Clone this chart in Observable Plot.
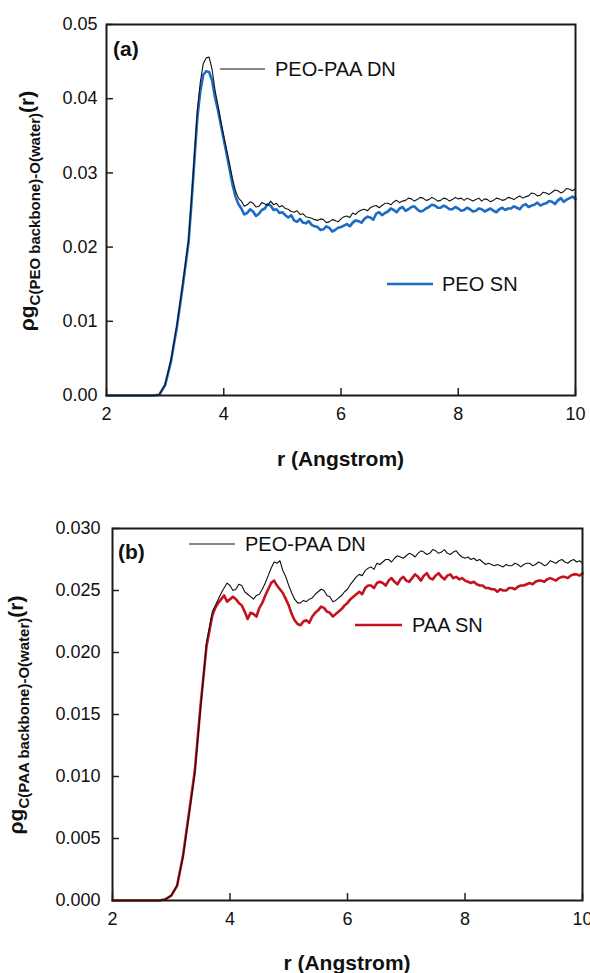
<!DOCTYPE html>
<html><head><meta charset="utf-8">
<script src="https://cdn.jsdelivr.net/npm/d3@7"></script>
<script src="https://cdn.jsdelivr.net/npm/@observablehq/plot@0.6"></script>
<style>
body{margin:0;background:#fff;width:590px;height:973px;position:relative;overflow:hidden;font-family:"Liberation Sans",Arial,sans-serif}
.panel{position:absolute;left:0}
</style></head><body>
<div id="a" class="panel" style="top:0"></div>
<div id="b" class="panel" style="top:480px"></div>
<script>
// Each series: [r (Angstrom), rho*g(r)] pairs.
// ---- Panel (a): C(PEO backbone)-O(water) ----
const peoPaaDN_A = [[2.0,0],[2.8,0],[2.9,0.0001],[3.0,0.0015],[3.1,0.0048],[3.2,0.0095],[3.3,0.0150],[3.4,0.0210],[3.45,0.0265],[3.5,0.0325],[3.55,0.0385],[3.6,0.0422],[3.65,0.0447],[3.7,0.0455],[3.75,0.0456],[3.8,0.0440],[3.85,0.0412],[3.9,0.0392],[3.95,0.0370],[4.0,0.0350],
 [4.05,0.0331],[4.1,0.0312],[4.15,0.0292],[4.2,0.0276],[4.25,0.0266],[4.3,0.0262],[4.35,0.0255],[4.4,0.0257],[4.45,0.0261],[4.5,0.0259],[4.55,0.0254],[4.6,0.0255],[4.65,0.0260],[4.7,0.0258],[4.75,0.0256],[4.8,0.0262],[4.85,0.0257],[4.9,0.0259],[4.95,0.0254],[5.0,0.0256],
 [5.05,0.0252],[5.1,0.0251],[5.15,0.0248],[5.2,0.0247],[5.25,0.0249],[5.3,0.0244],[5.35,0.0245],[5.4,0.0241],[5.45,0.0240],[5.5,0.0239],[5.55,0.0237],[5.6,0.0236],[5.65,0.0238],[5.7,0.0237],[5.75,0.0233],[5.8,0.0234],[5.85,0.0237],[5.9,0.0236],[5.95,0.0234],[6.0,0.0238],
 [6.05,0.0241],[6.1,0.0242],[6.15,0.0240],[6.2,0.0246],[6.25,0.0244],[6.3,0.0248],[6.35,0.0250],[6.4,0.0251],[6.45,0.0249],[6.5,0.0253],[6.55,0.0255],[6.6,0.0256],[6.65,0.0253],[6.7,0.0256],[6.75,0.0259],[6.8,0.0259],[6.85,0.0257],[6.9,0.0261],[6.95,0.0263],[7.0,0.0260],
 [7.05,0.0262],[7.1,0.0263],[7.15,0.0266],[7.2,0.0265],[7.25,0.0262],[7.3,0.0264],[7.35,0.0267],[7.4,0.0266],[7.45,0.0263],[7.5,0.0264],[7.55,0.0267],[7.6,0.0265],[7.65,0.0262],[7.7,0.0263],[7.75,0.0266],[7.8,0.0265],[7.85,0.0262],[7.9,0.0264],[7.95,0.0267],[8.0,0.0265],
 [8.05,0.0266],[8.1,0.0263],[8.15,0.0266],[8.2,0.0264],[8.25,0.0262],[8.3,0.0264],[8.35,0.0266],[8.4,0.0262],[8.45,0.0265],[8.5,0.0264],[8.55,0.0261],[8.6,0.0263],[8.65,0.0266],[8.7,0.0265],[8.75,0.0263],[8.8,0.0264],[8.85,0.0267],[8.9,0.0266],[8.95,0.0264],[9.0,0.0267],
 [9.05,0.0269],[9.1,0.0266],[9.15,0.0268],[9.2,0.0269],[9.25,0.0273],[9.3,0.0272],[9.35,0.0269],[9.4,0.0270],[9.45,0.0274],[9.5,0.0273],[9.55,0.0271],[9.6,0.0274],[9.65,0.0277],[9.7,0.0276],[9.75,0.0273],[9.8,0.0275],[9.85,0.0279],[9.9,0.0278],[9.95,0.0276],[10.0,0.0279]];
const peoSN_A = [[2.0,0],[2.8,0],[2.9,0.0001],[3.0,0.0014],[3.1,0.0046],[3.2,0.0092],[3.3,0.0147],[3.4,0.0207],[3.45,0.0260],[3.5,0.0318],[3.55,0.0375],[3.6,0.0410],[3.65,0.0432],[3.7,0.0437],[3.75,0.0436],[3.8,0.0425],[3.85,0.0402],[3.9,0.0385],[3.95,0.0365],[4.0,0.0345],
 [4.05,0.0325],[4.1,0.0305],[4.15,0.0284],[4.2,0.0268],[4.25,0.0258],[4.3,0.0252],[4.35,0.0244],[4.4,0.0246],[4.45,0.0251],[4.5,0.0248],[4.55,0.0242],[4.6,0.0245],[4.65,0.0250],[4.7,0.0252],[4.75,0.0258],[4.8,0.0256],[4.85,0.0250],[4.9,0.0251],[4.95,0.0246],[5.0,0.0247],
 [5.05,0.0243],[5.1,0.0240],[5.15,0.0243],[5.2,0.0236],[5.25,0.0234],[5.3,0.0238],[5.35,0.0233],[5.4,0.0232],[5.45,0.0235],[5.5,0.0230],[5.55,0.0228],[5.6,0.0227],[5.65,0.0223],[5.7,0.0224],[5.75,0.0228],[5.8,0.0226],[5.85,0.0221],[5.9,0.0223],[5.95,0.0226],[6.0,0.0227],
 [6.05,0.0229],[6.1,0.0231],[6.15,0.0228],[6.2,0.0233],[6.25,0.0236],[6.3,0.0235],[6.35,0.0233],[6.4,0.0238],[6.45,0.0241],[6.5,0.0240],[6.55,0.0237],[6.6,0.0245],[6.65,0.0247],[6.7,0.0243],[6.75,0.0246],[6.8,0.0248],[6.85,0.0252],[6.9,0.0250],[6.95,0.0247],[7.0,0.0252],
 [7.05,0.0254],[7.1,0.0249],[7.15,0.0251],[7.2,0.0254],[7.25,0.0255],[7.3,0.0251],[7.35,0.0248],[7.4,0.0249],[7.45,0.0252],[7.5,0.0254],[7.55,0.0257],[7.6,0.0256],[7.65,0.0253],[7.7,0.0253],[7.75,0.0256],[7.8,0.0254],[7.85,0.0251],[7.9,0.0251],[7.95,0.0254],[8.0,0.0252],
 [8.05,0.0249],[8.1,0.0250],[8.15,0.0253],[8.2,0.0251],[8.25,0.0248],[8.3,0.0249],[8.35,0.0252],[8.4,0.0251],[8.45,0.0248],[8.5,0.0250],[8.55,0.0252],[8.6,0.0249],[8.65,0.0247],[8.7,0.0251],[8.75,0.0253],[8.8,0.0250],[8.85,0.0252],[8.9,0.0252],[8.95,0.0255],[9.0,0.0253],
 [9.05,0.0251],[9.1,0.0256],[9.15,0.0258],[9.2,0.0254],[9.25,0.0256],[9.3,0.0257],[9.35,0.0260],[9.4,0.0256],[9.45,0.0258],[9.5,0.0259],[9.55,0.0262],[9.6,0.0261],[9.65,0.0258],[9.7,0.0263],[9.75,0.0266],[9.8,0.0261],[9.85,0.0264],[9.9,0.0266],[9.95,0.0268],[10.0,0.0265]];

// ---- Panel (b): C(PAA backbone)-O(water) ----
const peoPaaDN_B = [[2.0,0],[2.8,0],[2.9,0.0001],[3.0,0.0004],[3.1,0.0012],[3.2,0.0035],[3.3,0.0068],[3.4,0.0102],[3.5,0.0155],[3.6,0.0208],[3.7,0.0233],[3.75,0.0238],
 [3.8,0.0243],[3.85,0.0248],[3.9,0.0252],[3.95,0.0256],[4.0,0.0254],[4.05,0.0250],[4.1,0.0251],[4.15,0.0255],[4.2,0.0254],[4.25,0.0249],[4.3,0.0247],[4.35,0.0245],[4.4,0.0243],[4.45,0.0246],[4.5,0.0247],[4.55,0.0251],[4.6,0.0256],[4.65,0.0262],[4.7,0.0268],[4.75,0.0273],
 [4.8,0.0272],[4.85,0.0274],[4.9,0.0266],[4.95,0.0261],[5.0,0.0254],[5.05,0.0248],[5.1,0.0243],[5.15,0.0240],[5.2,0.0240],[5.25,0.0242],[5.3,0.0241],[5.35,0.0243],[5.4,0.0244],[5.45,0.0247],[5.5,0.0249],[5.55,0.0251],[5.6,0.0250],[5.65,0.0246],[5.7,0.0245],[5.75,0.0241],
 [5.8,0.0242],[5.85,0.0244],[5.9,0.0246],[5.95,0.0249],[6.0,0.0251],[6.05,0.0255],[6.1,0.0258],[6.15,0.0261],[6.2,0.0263],[6.25,0.0262],[6.3,0.0266],[6.35,0.0268],[6.4,0.0269],[6.45,0.0267],[6.5,0.0272],[6.55,0.0271],[6.6,0.0273],[6.65,0.0275],[6.7,0.0275],[6.75,0.0273],
 [6.8,0.0276],[6.85,0.0278],[6.9,0.0277],[6.95,0.0276],[7.0,0.0278],[7.05,0.0280],[7.1,0.0279],[7.15,0.0277],[7.2,0.0280],[7.25,0.0282],[7.3,0.0281],[7.35,0.0279],[7.4,0.0280],[7.45,0.0283],[7.5,0.0282],[7.55,0.0280],[7.6,0.0281],[7.65,0.0283],[7.7,0.0280],[7.75,0.0279],
 [7.8,0.0281],[7.85,0.0282],[7.9,0.0279],[7.95,0.0277],[8.0,0.0276],[8.05,0.0277],[8.1,0.0275],[8.15,0.0276],[8.2,0.0274],[8.25,0.0275],[8.3,0.0273],[8.35,0.0271],[8.4,0.0272],[8.45,0.0271],[8.5,0.0270],[8.55,0.0271],[8.6,0.0270],[8.65,0.0269],[8.7,0.0271],[8.75,0.0270],
 [8.8,0.0270],[8.85,0.0272],[8.9,0.0271],[8.95,0.0269],[9.0,0.0271],[9.05,0.0272],[9.1,0.0272],[9.15,0.0270],[9.2,0.0271],[9.25,0.0273],[9.3,0.0272],[9.35,0.0270],[9.4,0.0271],[9.45,0.0274],[9.5,0.0273],[9.55,0.0272],[9.6,0.0274],[9.65,0.0275],[9.7,0.0273],[9.75,0.0272],
 [9.8,0.0274],[9.85,0.0275],[9.9,0.0273],[9.95,0.0274],[10.0,0.0272]];
const paaSN_B = [[2.0,0],[2.8,0],[2.9,0.0001],[3.0,0.0004],[3.1,0.0012],[3.2,0.0036],[3.3,0.0070],[3.4,0.0104],[3.5,0.0158],[3.6,0.0205],[3.7,0.0230],[3.75,0.0236],
 [3.8,0.0240],[3.85,0.0243],[3.9,0.0246],[3.95,0.0241],[4.0,0.0243],[4.05,0.0245],[4.1,0.0243],[4.15,0.0240],[4.2,0.0238],[4.25,0.0233],[4.3,0.0227],[4.35,0.0232],[4.4,0.0231],[4.45,0.0229],[4.5,0.0236],[4.55,0.0240],[4.6,0.0246],[4.65,0.0251],[4.7,0.0256],[4.75,0.0258],
 [4.8,0.0254],[4.85,0.0251],[4.9,0.0248],[4.95,0.0243],[5.0,0.0238],[5.05,0.0231],[5.1,0.0226],[5.15,0.0223],[5.2,0.0222],[5.25,0.0225],[5.3,0.0226],[5.35,0.0224],[5.4,0.0229],[5.45,0.0232],[5.5,0.0234],[5.55,0.0237],[5.6,0.0236],[5.65,0.0233],[5.7,0.0232],[5.75,0.0229],
 [5.8,0.0231],[5.85,0.0233],[5.9,0.0235],[5.95,0.0238],[6.0,0.0240],[6.05,0.0243],[6.1,0.0245],[6.15,0.0247],[6.2,0.0249],[6.25,0.0247],[6.3,0.0252],[6.35,0.0254],[6.4,0.0254],[6.45,0.0252],[6.5,0.0256],[6.55,0.0257],[6.6,0.0256],[6.65,0.0254],[6.7,0.0258],[6.75,0.0260],
 [6.8,0.0257],[6.85,0.0255],[6.9,0.0259],[6.95,0.0261],[7.0,0.0258],[7.05,0.0257],[7.1,0.0260],[7.15,0.0263],[7.2,0.0261],[7.25,0.0258],[7.3,0.0262],[7.35,0.0264],[7.4,0.0260],[7.45,0.0259],[7.5,0.0262],[7.55,0.0264],[7.6,0.0261],[7.65,0.0259],[7.7,0.0262],[7.75,0.0263],
 [7.8,0.0260],[7.85,0.0261],[7.9,0.0259],[7.95,0.0260],[8.0,0.0258],[8.05,0.0257],[8.1,0.0256],[8.15,0.0257],[8.2,0.0255],[8.25,0.0254],[8.3,0.0254],[8.35,0.0252],[8.4,0.0252],[8.45,0.0251],[8.5,0.0251],[8.55,0.0249],[8.6,0.0251],[8.65,0.0250],[8.7,0.0250],[8.75,0.0252],
 [8.8,0.0252],[8.85,0.0251],[8.9,0.0253],[8.95,0.0254],[9.0,0.0254],[9.05,0.0255],[9.1,0.0256],[9.15,0.0255],[9.2,0.0257],[9.25,0.0258],[9.3,0.0258],[9.35,0.0257],[9.4,0.0259],[9.45,0.0260],[9.5,0.0259],[9.55,0.0258],[9.6,0.0260],[9.65,0.0261],[9.7,0.0261],[9.75,0.0260],
 [9.8,0.0262],[9.85,0.0263],[9.9,0.0263],[9.95,0.0262],[10.0,0.0264]];

const xTicks = [2, 4, 6, 8, 10];
const yTicksA = [0, 0.01, 0.02, 0.03, 0.04, 0.05];
const yTicksB = [0, 0.005, 0.010, 0.015, 0.020, 0.025, 0.030];

const FONT = '"Liberation Sans", Arial, sans-serif';

function makePanel(o) {
  const innerW = 590 - o.ml - o.mr;
  const innerH = o.height - o.mt - o.mb;
  const dn = o.dn.map(([r, v]) => ({r, v}));
  const sn = o.sn.map(([r, v]) => ({r, v}));
  const svg = Plot.plot({
    width: 590, height: o.height,
    marginLeft: o.ml, marginRight: o.mr, marginTop: o.mt, marginBottom: o.mb,
    style: {fontFamily: FONT, fontSize: "18px", color: "#111", background: "white", overflow: "visible"},
    x: {domain: [2, 10], label: null},
    y: {domain: o.yDomain, label: null},
    marks: [
      Plot.axisX(xTicks, {tickSize: 0, tickPadding: 12, tickFormat: d => String(d), label: null, fontSize: 18}),
      Plot.axisY(o.yTicks, {tickSize: 0, tickPadding: o.ypad, tickFormat: d3.format(o.yFmt), label: null, fontSize: 18}),
      Plot.tickX(xTicks, {x: d => d, insetTop: innerH - 7, stroke: "#222", strokeWidth: 1.5}),
      Plot.tickY(o.yTicks, {y: d => d, insetRight: innerW - 7, stroke: "#222", strokeWidth: 1.5}),
      Plot.line(sn, {x: "r", y: "v", stroke: o.snColor, strokeWidth: 2.6, strokeLinejoin: "round"}),
      Plot.line(dn, {x: "r", y: "v", stroke: "#111", strokeWidth: 1.1, strokeLinejoin: "round"}),
      Plot.frame({stroke: "#1a1a1a", strokeWidth: 2})
    ]
  });
  const s = d3.select(svg);
  // x-axis title
  s.append("text").attr("x", o.ml + innerW / 2).attr("y", o.xTitleY)
    .attr("text-anchor", "middle").attr("dominant-baseline", "central")
    .attr("font-family", FONT).attr("font-weight", "bold").attr("font-size", 21).attr("fill", "#111")
    .text("r (Angstrom)");
  // y-axis title with subscript
  const t = s.append("text")
    .attr("transform", `translate(${o.yTitleX},${o.yTitleY}) rotate(-90)`)
    .attr("text-anchor", "middle").attr("font-family", FONT).attr("font-weight", "bold")
    .attr("font-size", 21).attr("fill", "#111");
  t.append("tspan").text("\u03C1g");
  t.append("tspan").attr("font-size", 15).attr("dy", 6).text(o.sub);
  t.append("tspan").attr("dy", -6).text("(r)");
  // panel letter
  s.append("text").attr("x", o.letterX).attr("y", o.letterY).attr("dominant-baseline", "central")
    .attr("text-anchor", "start")
    .attr("font-family", FONT).attr("font-weight", "bold").attr("font-size", 21).attr("fill", "#111")
    .text(o.letter);
  // legend entries
  for (const e of o.legend) {
    s.append("line").attr("x1", e.x1).attr("x2", e.x2).attr("y1", e.y).attr("y2", e.y)
      .attr("stroke", e.color).attr("stroke-width", e.w);
    s.append("text").attr("x", e.tx).attr("y", e.y).attr("dominant-baseline", "central")
      .attr("text-anchor", "start")
      .attr("font-family", FONT).attr("font-size", 20).attr("fill", "#111").text(e.label);
  }
  return svg;
}

document.getElementById("a").appendChild(makePanel({
  dn: peoPaaDN_A, sn: peoSN_A, snColor: "#1a6cc4",
  yDomain: [0, 0.05], yTicks: yTicksA, yFmt: ".2f", ypad: 9,
  ml: 106, mr: 15, mt: 24, mb: 85, height: 480,
  xTitleY: 458, yTitleX: 34, yTitleY: 211,
  sub: "C(PEO backbone)-O(water)", letter: "(a)", letterX: 113, letterY: 48,
  legend: [
    {x1: 220, x2: 265, y: 69, tx: 275, color: "#111", w: 1.2, label: "PEO-PAA DN"},
    {x1: 387, x2: 433, y: 284, tx: 442, color: "#1a6cc4", w: 2.6, label: "PEO SN"}
  ]
}));

document.getElementById("b").appendChild(makePanel({
  dn: peoPaaDN_B, sn: paaSN_B, snColor: "#c3141e",
  yDomain: [0, 0.03], yTicks: yTicksB, yFmt: ".3f", ypad: 12,
  ml: 112, mr: 8, mt: 48, mb: 73, height: 493,
  xTitleY: 482, yTitleX: 23, yTitleY: 235,
  sub: "C(PAA backbone)-O(water)", letter: "(b)", letterX: 118, letterY: 71,
  legend: [
    {x1: 189, x2: 235, y: 64, tx: 245, color: "#111", w: 1.2, label: "PEO-PAA DN"},
    {x1: 355, x2: 402, y: 145, tx: 412, color: "#c3141e", w: 2.6, label: "PAA SN"}
  ]
}));
</script>
</body></html>
